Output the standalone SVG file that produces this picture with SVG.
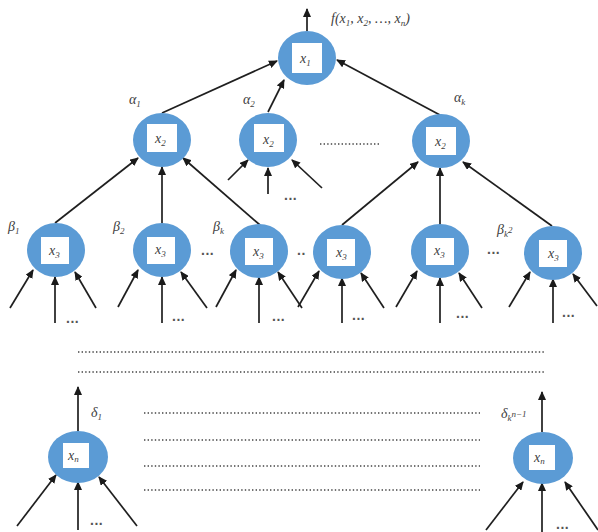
<svg xmlns="http://www.w3.org/2000/svg" width="598" height="532" viewBox="0 0 598 532">
<defs>
<marker id="ah" markerUnits="userSpaceOnUse" markerWidth="9" markerHeight="8" refX="8" refY="4" orient="auto"><path d="M0,0 L9,4 L0,8 z" fill="#1a1a1a"/></marker>
<style>
.n{fill:#5b9bd5}
.sq{fill:#fff}
.c line{stroke:#1f1f1f;stroke-width:1.7;marker-end:url(#ah)}
.t{font-family:"Liberation Serif","DejaVu Serif",serif;font-style:italic;fill:#404040;font-size:14px}
.s{font-size:9px}
.d{font-family:"Liberation Sans",sans-serif;fill:#555;font-size:14px;font-weight:bold;letter-spacing:0.5px}
.dl{stroke:#444;stroke-width:1.6;stroke-dasharray:1.4 2.2}
</style>
</defs>
<rect width="598" height="532" fill="#fff"/>
<g class="c" id="connectors">
<line x1="307" y1="31" x2="307" y2="9"/>
<line x1="162" y1="113" x2="277" y2="61"/>
<line x1="268" y1="112" x2="284" y2="80"/>
<line x1="440" y1="115" x2="337" y2="60"/>
<line x1="228" y1="180" x2="248" y2="160"/>
<line x1="268" y1="194" x2="268" y2="168"/>
<line x1="322" y1="188" x2="292" y2="160"/>
<line x1="55" y1="223" x2="138" y2="158"/>
<line x1="162" y1="223" x2="162" y2="167"/>
<line x1="260" y1="225" x2="183" y2="158"/>
<line x1="342" y1="225" x2="418" y2="162"/>
<line x1="440" y1="225" x2="440" y2="168"/>
<line x1="552" y1="226" x2="463" y2="162"/>
<line x1="10" y1="308" x2="33" y2="270"/><line x1="55" y1="323" x2="55" y2="277"/><line x1="96" y1="308" x2="75" y2="272"/>
<line x1="118" y1="307" x2="138" y2="270"/><line x1="162" y1="323" x2="162" y2="277"/><line x1="207" y1="308" x2="181" y2="272"/>
<line x1="216" y1="307" x2="236" y2="270"/><line x1="259" y1="323" x2="259" y2="277"/><line x1="302" y1="308" x2="278" y2="272"/>
<line x1="298" y1="307" x2="319" y2="271"/><line x1="342" y1="323" x2="342" y2="278"/><line x1="384" y1="308" x2="361" y2="273"/>
<line x1="396" y1="307" x2="417" y2="271"/><line x1="440" y1="323" x2="440" y2="278"/><line x1="482" y1="308" x2="459" y2="273"/>
<line x1="509" y1="307" x2="530" y2="272"/><line x1="553" y1="323" x2="553" y2="279"/><line x1="597" y1="306" x2="573" y2="274"/>
<line x1="78" y1="431" x2="78" y2="387"/>
<line x1="17" y1="526" x2="56" y2="475"/><line x1="78" y1="530" x2="78" y2="482"/><line x1="137" y1="526" x2="99" y2="477"/>
<line x1="542" y1="432" x2="542" y2="392"/>
<line x1="486" y1="530" x2="523" y2="482"/><line x1="542" y1="532" x2="542" y2="483"/><line x1="598" y1="530" x2="565" y2="482"/>
</g>
<g id="root"><ellipse class="n" cx="307" cy="58" rx="29" ry="27"/><rect class="sq" x="292" y="43" width="30" height="30"/><text class="t" x="300" y="63">x<tspan class="s" dy="3">1</tspan></text></g>
<g id="a1"><ellipse class="n" cx="162" cy="140" rx="29" ry="27"/><rect class="sq" x="147" y="124" width="30" height="28"/><text class="t" x="155" y="143">x<tspan class="s" dy="3">2</tspan></text></g>
<g id="a2"><ellipse class="n" cx="268" cy="140" rx="29" ry="27"/><rect class="sq" x="254" y="124" width="30" height="28"/><text class="t" x="263" y="144">x<tspan class="s" dy="3">2</tspan></text></g>
<g id="ak"><ellipse class="n" cx="441" cy="141" rx="29" ry="27"/><rect class="sq" x="426" y="127" width="30" height="28"/><text class="t" x="435" y="146">x<tspan class="s" dy="3">2</tspan></text></g>
<g id="b1"><ellipse class="n" cx="56" cy="250" rx="29" ry="27"/><rect class="sq" x="41" y="237" width="28" height="27"/><text class="t" x="49" y="255">x<tspan class="s" dy="3">3</tspan></text></g>
<g id="b2"><ellipse class="n" cx="162" cy="250" rx="29" ry="27"/><rect class="sq" x="147" y="237" width="28" height="27"/><text class="t" x="155" y="254">x<tspan class="s" dy="3">3</tspan></text></g>
<g id="b3"><ellipse class="n" cx="259" cy="251" rx="29" ry="27"/><rect class="sq" x="245" y="238" width="28" height="27"/><text class="t" x="253" y="256">x<tspan class="s" dy="3">3</tspan></text></g>
<g id="b4"><ellipse class="n" cx="342" cy="252" rx="29" ry="27"/><rect class="sq" x="327" y="239" width="28" height="27"/><text class="t" x="336" y="257">x<tspan class="s" dy="3">3</tspan></text></g>
<g id="b5"><ellipse class="n" cx="440" cy="251" rx="29" ry="27"/><rect class="sq" x="426" y="238" width="28" height="27"/><text class="t" x="434" y="255">x<tspan class="s" dy="3">3</tspan></text></g>
<g id="b6"><ellipse class="n" cx="553" cy="253" rx="29" ry="27"/><rect class="sq" x="539" y="240" width="28" height="27"/><text class="t" x="548" y="258">x<tspan class="s" dy="3">3</tspan></text></g>
<g id="n1"><ellipse class="n" cx="78" cy="457" rx="30" ry="26"/><rect class="sq" x="63" y="443" width="26" height="25"/><text class="t" x="68" y="460" font-size="12">x<tspan class="s" dy="2" font-size="7">n</tspan></text></g>
<g id="n2"><ellipse class="n" cx="543" cy="458" rx="30" ry="26"/><rect class="sq" x="529" y="445" width="26" height="25"/><text class="t" x="534" y="462" font-size="12">x<tspan class="s" dy="2" font-size="7">n</tspan></text></g>
<g id="labels">
<text class="t" x="331" y="23" font-size="13">f(x<tspan class="s" dy="3">1</tspan><tspan dy="-3">, x</tspan><tspan class="s" dy="3">2</tspan><tspan dy="-3">, …, x</tspan><tspan class="s" dy="3">n</tspan><tspan dy="-3">)</tspan></text>
<text class="t" x="129" y="104">α<tspan class="s" dy="3">1</tspan></text>
<text class="t" x="243" y="104">α<tspan class="s" dy="3">2</tspan></text>
<text class="t" x="454" y="102">α<tspan class="s" dy="3">k</tspan></text>
<text class="t" x="8" y="231">β<tspan class="s" dy="3">1</tspan></text>
<text class="t" x="113" y="231">β<tspan class="s" dy="3">2</tspan></text>
<text class="t" x="213" y="231">β<tspan class="s" dy="3">k</tspan></text>
<text class="t" x="497" y="234">β<tspan class="s" dy="3">k</tspan><tspan class="s" font-size="6" dy="-4">2</tspan></text>
<text class="t" x="91" y="417">δ<tspan class="s" dy="3">1</tspan></text>
<text class="t" x="501" y="418">δ<tspan class="s" dy="3">k</tspan><tspan class="s" font-size="6" dy="-4">n−1</tspan></text>
<text class="d" x="284" y="200">...</text>
<text class="d" x="66" y="323">...</text>
<text class="d" x="172" y="321">...</text>
<text class="d" x="272" y="321">...</text>
<text class="d" x="352" y="320">...</text>
<text class="d" x="456" y="318">...</text>
<text class="d" x="562" y="317">...</text>
<text class="d" x="201" y="255">...</text>
<text class="d" x="297" y="255">..</text>
<text class="d" x="487" y="254">...</text>
<text class="d" x="90" y="525">...</text>
<text class="d" x="556" y="529">...</text>
</g>
<g id="dots">
<line class="dl" x1="320" y1="144" x2="379" y2="144"/>
<line class="dl" x1="78" y1="352" x2="545" y2="352"/>
<line class="dl" x1="78" y1="372" x2="545" y2="372"/>
<line class="dl" x1="144" y1="413" x2="480" y2="413"/>
<line class="dl" x1="144" y1="440" x2="480" y2="440"/>
<line class="dl" x1="144" y1="466" x2="480" y2="466"/>
<line class="dl" x1="144" y1="490" x2="480" y2="490"/>
</g>
</svg>
